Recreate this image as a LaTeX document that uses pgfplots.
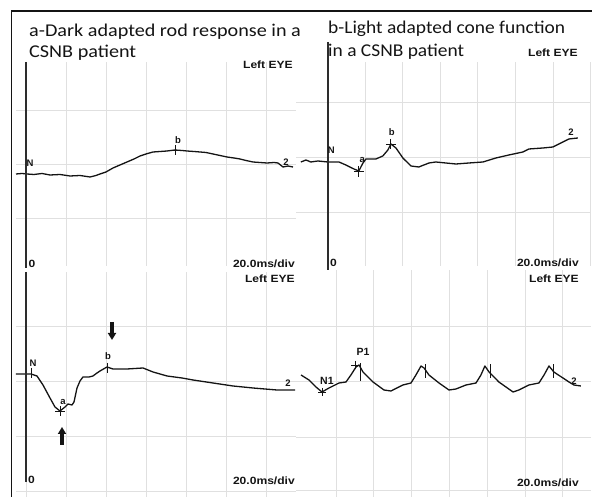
\documentclass[border=0pt]{standalone}
\usepackage{pgfplots}
\pgfplotsset{compat=1.18}
\usepackage{fontspec}
\usetikzlibrary{arrows.meta}
\setmainfont{Carlito}
\newfontfamily\labfont{Liberation Sans}
\definecolor{gridgray}{RGB}{224,224,224}
\definecolor{zeroline}{RGB}{45,45,45}
\definecolor{ink}{RGB}{20,20,20}

\newcommand{\lab}{\labfont\bfseries\fontsize{10.5}{12}\selectfont}
\newcommand{\mk}{\labfont\bfseries\fontsize{9.5}{11}\selectfont}
\newcommand{\ttl}{\fontsize{18}{21}\selectfont}

\pgfplotsset{
  panel/.style={
    scale only axis, anchor=south west, clip=false,
    axis line style={draw=none},
    major tick length=0pt,
    xticklabels={}, yticklabels={},
    grid=major,
    grid style={line width=0.8pt, color=gridgray},
  },
  trace/.style={ink, line width=1.3pt, line join=round, no marks},
  cross/.style={ink, only marks, mark=+, mark size=5pt, mark options={line width=0.9pt}},
  bar/.style={ink, only marks, mark=|, mark size=5pt, mark options={line width=0.9pt}},
}

\begin{document}
\begin{tikzpicture}[x=1pt,y=1pt]
\path[use as bounding box] (0,0) rectangle (592,497);
\draw[line width=1.4pt, ink] (11.5,0) -- (11.5,486) -- (592,486);

% ---- a: dark adapted rod response (x in ms, 20 ms/div)
\begin{axis}[panel, at={(16pt,231pt)}, width=280pt, height=204pt,
  xmin=-5, xmax=135, ymin=-92, ymax=112,
  xtick={0,20,...,120}, ytick={64,10,-44}]
\addplot[trace] coordinates {
  (-5,0) (-2,0.5) (0.5,0) (4,-0.5) (8,0.5) (12,-1) (17,-0.5) (22,-2)
  (27,-1.5) (32,-3) (35,-1.5) (37,0) (40,2) (43.5,6) (47,9) (50.5,12)
  (54,15) (57,18) (60,20) (63.5,22) (67,22.5) (70.5,23) (74.5,24)
  (78,23.5) (80.5,23) (84,22.5) (87,22) (90,21.5) (93.5,20) (97,18.5)
  (100.5,17) (104,16) (107,15) (110,13.5) (113.5,12) (117,11.5)
  (120.5,11) (124,11.5) (126,11) (128.5,7) (131,8) (133.5,7)
};
\addplot[cross] coordinates {(74.5,24)};
\draw[line width=1.5pt, zeroline] (axis cs:0,112) -- (axis cs:0,-94);
\node[font=\mk, ink] at (axis cs:2,11) {N};
\node[font=\mk, ink] at (axis cs:76,34) {b};
\node[font=\mk, ink] at (axis cs:130,12) {2};
\end{axis}

% ---- b: light adapted cone function (x in ms, 20 ms/div)
\begin{axis}[panel, at={(296pt,231pt)}, width=294.4pt, height=204pt,
  xmin=-17, xmax=140, ymin=-104, ymax=100,
  xtick={0,20,...,140}, ytick={60,5,-50}]
\addplot[trace] coordinates {
  (-14.4,0) (-11.7,2) (-9.1,0) (-5.3,1) (0,0) (5.9,0) (9.6,-3)
  (13.9,-7) (16.5,-9) (18.7,-1) (20.3,3) (25.6,3) (29.3,6) (32,12)
  (33.6,18) (36.3,14) (40,4) (44.3,-4) (48.5,-5) (53.9,-1) (57.6,0)
  (62.9,-1) (68.3,-2) (75.2,-1) (82.7,0) (89.6,4) (96.5,7) (104,10)
  (107.2,13) (114.7,14) (120,15) (125.3,20) (128.5,23) (133.3,24)
};
\addplot[cross] coordinates {(16.5,-9) (33.6,18)};
\addplot[bar, mark size=3pt] coordinates {(16.5,-12)};
\draw[line width=1.5pt, zeroline] (axis cs:0,120) -- (axis cs:0,-108);
\node[font=\mk, ink] at (axis cs:1.8,12) {N};
\node[font=\mk, ink] at (axis cs:18.3,2) {a};
\node[font=\mk, ink] at (axis cs:34.1,30) {b};
\node[font=\mk, ink] at (axis cs:129.6,30) {2};
\end{axis}

% ---- a (lower): dark adapted mixed response
\begin{axis}[panel, at={(16pt,0pt)}, width=280pt, height=225pt,
  xmin=-5, xmax=135, ymin=-123, ymax=102,
  xtick={0,20,...,120}, ytick={48,-7,-62,-117}]
\addplot[trace] coordinates {
  (-5,0) (2.5,0) (5.5,-2) (8.5,-11) (12,-24) (14.5,-33) (17,-37)
  (19.5,-33) (21,-30) (23,-31) (24,-28) (25.5,-14) (27,-7) (28.5,-3)
  (31.5,-3) (33.5,-2) (35.5,1) (37,3) (40.5,7) (43.5,5) (50.5,5)
  (58.5,6) (63.5,2) (70.5,-2) (78,-4) (83.5,-6) (93.5,-9) (103.5,-12)
  (113.5,-14) (125.5,-16) (134.5,-16)
};
\addplot[cross] coordinates {(17,-37)};
\addplot[bar] coordinates {(2.5,1) (40.5,6)};
\draw[line width=1.5pt, zeroline] (axis cs:0,102) -- (axis cs:0,-108);
\draw[ink, line width=3.2pt, -{Triangle[length=7pt,width=8pt]}]
  (axis cs:18,-71) -- (axis cs:18,-53);
\draw[ink, line width=3.2pt, -{Triangle[length=7pt,width=8pt]}]
  (axis cs:43,52) -- (axis cs:43,34);
\node[font=\mk, ink] at (axis cs:3.5,11) {N};
\node[font=\mk, ink] at (axis cs:18.5,-28) {a};
\node[font=\mk, ink] at (axis cs:41,18) {b};
\node[font=\mk, ink] at (axis cs:131,-9) {2};
\end{axis}

% ---- b (lower): 30 Hz flicker
\begin{axis}[panel, at={(296.3pt,0pt)}, width=294.8pt, height=227pt,
  xmin=-21, xmax=135, ymin=-122, ymax=105,
  xtick={0,20,...,120}, ytick={49,-6,-62,-115}]
\addplot[trace] coordinates {
  (-18.5,0) (-14.3,-5) (-10.6,-12) (-7.4,-17) (-3.7,-13) (1.6,-8)
  (5.3,-7) (7.9,0) (10.6,8) (12.2,10) (14.3,3) (19.6,-7) (25.4,-15)
  (29.1,-16) (35.4,-10) (39.7,-8) (42.3,0) (45,9) (46.6,7) (49.2,0)
  (54.5,-8) (59.8,-15) (63.5,-14) (68.8,-10) (74.1,-8) (76.7,0)
  (78.8,9) (81,3) (86.2,-7) (93.7,-17) (96.8,-15) (102.1,-10)
  (107.4,-8) (110.1,0) (112.7,9) (115.3,3) (120.1,-3) (123.3,-7)
  (125.9,-10) (129.6,-11)
};
\addplot[cross, mark size=4pt] coordinates {(-7.4,-17) (10.1,10)};
\addplot[bar, mark size=9pt] coordinates {(13.2,3)};
\addplot[bar, mark size=7pt] coordinates {(47.6,3.5) (81.5,3.5) (115.3,3.5)};
\node[font=\lab, ink] at (axis cs:-4.8,-6) {N1};
\node[font=\lab, ink] at (axis cs:14.3,23) {P1};
\node[font=\mk, ink] at (axis cs:125.9,-6) {2};
\end{axis}

% ---- titles and panel captions
\begin{scope}[every node/.style={inner sep=0pt, text=ink}]
\node[anchor=base west, font=\ttl, xscale=1.12] at (29,460) {a-Dark adapted rod response in a};
\node[anchor=base west, font=\ttl, xscale=1.12] at (29,439) {CSNB patient};
\node[anchor=base west, font=\ttl, xscale=1.08] at (328,463) {b-Light adapted cone function};
\node[anchor=base west, font=\ttl, xscale=1.08] at (328,440) {in a CSNB patient};

\begin{scope}[every node/.append style={font=\lab, xscale=1.15}]
\node[anchor=base east] at (293,428) {Left EYE};
\node[anchor=base west] at (28.5,229) {0};
\node[anchor=base east] at (295,229) {20.0ms/div};

\node[anchor=base east] at (578,440) {Left EYE};
\node[anchor=base west] at (330,230) {0};
\node[anchor=base east] at (579,230) {20.0ms/div};

\node[anchor=base east] at (295,214) {Left EYE};
\node[anchor=base west] at (28,13) {0};
\node[anchor=base east] at (295,12) {20.0ms/div};

\node[anchor=base east] at (579,214) {Left EYE};
\node[anchor=base east] at (579,10) {20.0ms/div};
\end{scope}
\end{scope}
\end{tikzpicture}
\end{document}
